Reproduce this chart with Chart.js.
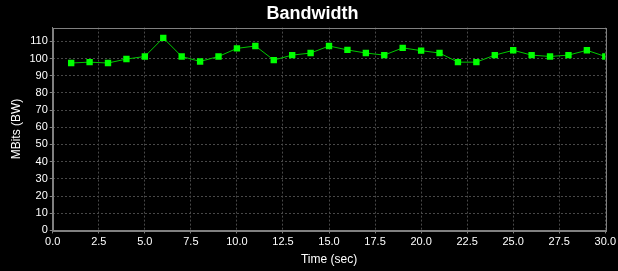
<!DOCTYPE html>
<html>
<head>
<meta charset="utf-8">
<script src="https://cdn.jsdelivr.net/npm/chart.js"></script>
<style>
  html, body { margin: 0; padding: 0; background: #000; overflow: hidden; }
  #wrap { width: 618px; height: 271px; }
</style>
</head>
<body>
<div id="wrap"><canvas id="chart"></canvas></div>
<script>
// Time in seconds and measured bandwidth (MBits)
const timeSec = [1, 2, 3, 4, 5, 6, 7, 8, 9, 10, 11, 12, 13, 14, 15,
                 16, 17, 18, 19, 20, 21, 22, 23, 24, 25, 26, 27, 28, 29, 30];
const bandwidth = [97.4, 97.9, 97.4, 99.7, 101.2, 112.0, 101.2, 98.3, 101.2, 105.9,
                   107.3, 99.1, 102.0, 103.2, 107.3, 105.0, 103.2, 102.0, 106.2, 104.6,
                   103.2, 97.9, 97.9, 102.0, 104.8, 102.0, 101.2, 102.0, 104.8, 101.2];
const xTickStep = 2.5;
const yTickStep = 10;

const FONT = 'Liberation Sans, Arial, sans-serif';

// Draw a grey frame round the plot area
const plotFrame = {
  id: 'plotFrame',
  beforeDatasetsDraw(chart) {
    const { ctx, chartArea: a } = chart;
    ctx.save();
    ctx.strokeStyle = '#808080';
    ctx.lineWidth = 1;
    ctx.strokeRect(Math.round(a.left) + 0.5, Math.round(a.top) + 0.5,
                   Math.round(a.right - a.left), Math.round(a.bottom - a.top));
    ctx.restore();
  }
};

new Chart(document.getElementById('chart'), {
  type: 'line',
  data: {
    datasets: [{
      label: 'BW',
      data: timeSec.map((t, i) => ({ x: t, y: bandwidth[i] })),
      borderColor: '#00c800',
      borderWidth: 1,
      backgroundColor: '#00ff00',
      pointStyle: 'rect',
      pointRadius: 4.5,
      pointBorderWidth: 0,
      pointBackgroundColor: '#00ff00',
      tension: 0
    }]
  },
  options: {
    animation: false,
    responsive: true,
    maintainAspectRatio: false,
    layout: { padding: { left: 3, right: -4, top: 2, bottom: 4 } },
    plugins: {
      legend: { display: false },
      tooltip: { enabled: false },
      title: {
        display: true,
        text: 'Bandwidth',
        color: '#ffffff',
        font: { family: FONT, size: 18, weight: 'bold' },
        padding: { top: 1, bottom: 3 }
      }
    },
    scales: {
      x: {
        type: 'linear',
        min: 0,
        max: 30,
        ticks: {
          stepSize: xTickStep,
          color: '#ffffff',
          font: { family: FONT, size: 11 },
          padding: 2,
          maxRotation: 0,
          callback: v => Number(v).toFixed(1)
        },
        grid: { color: '#484848', tickColor: '#808080', tickLength: 3, drawOnChartArea: true },
        border: { color: '#808080', dash: [2, 2] },
        title: {
          display: true,
          text: 'Time (sec)',
          color: '#ffffff',
          font: { family: FONT, size: 12 },
          padding: { top: 2, bottom: 0 }
        }
      },
      y: {
        min: 0,
        max: 118,
        afterBuildTicks: scale => {
          scale.ticks = scale.ticks.filter(t => t.value % yTickStep === 0);
        },
        ticks: {
          stepSize: yTickStep,
          color: '#ffffff',
          font: { family: FONT, size: 11 },
          padding: 2
        },
        grid: { color: '#484848', tickColor: '#808080', tickLength: 3 },
        border: { color: '#808080', dash: [2, 2] },
        title: {
          display: true,
          text: 'MBits (BW)',
          color: '#ffffff',
          font: { family: FONT, size: 12 },
          padding: { top: 6, bottom: 4 }
        }
      }
    }
  },
  plugins: [plotFrame]
});
</script>
</body>
</html>
